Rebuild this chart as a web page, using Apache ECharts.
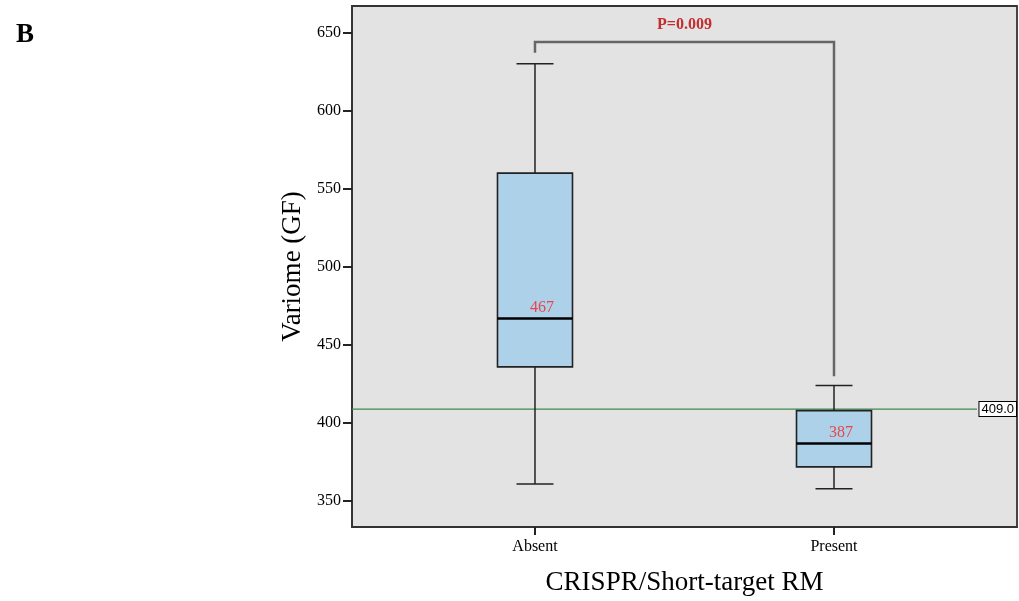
<!DOCTYPE html>
<html><head><meta charset="utf-8">
<script src="https://cdn.jsdelivr.net/npm/echarts@6/dist/echarts.min.js"></script>
<style>html,body{margin:0;padding:0;background:#fff}#c{width:1019px;height:601px}</style>
</head><body><div id="c"></div>
<script>
const categories = ['Absent', 'Present'];
const categoryPos = [1, 2];
const whiskerLow = [361, 358];
const q1 = [436, 372];
const median = [467, 387];
const q3 = [560, 408];
const whiskerHigh = [630, 424];
const refValue = 409;
const yTicks = [350, 400, 450, 500, 550, 600, 650];
const bracket = { left: 637, top: 644, right: 430, label: 'P=0.009' };

const SERIF = '"Liberation Serif","DejaVu Serif",serif';
const boxData = categoryPos.map((p, i) => [p, whiskerLow[i], q1[i], median[i], q3[i], whiskerHigh[i]]);

const chart = echarts.init(document.getElementById('c'));
chart.setOption({
  animation: false,
  backgroundColor: '#fff',
  title: { text: 'B', left: 11, top: 17, textStyle: { fontFamily: SERIF, fontWeight: 'bold', fontSize: 27, color: '#000' } },
  grid: { left: 352, right: 2, top: 6, bottom: 73, show: true, backgroundColor: '#e3e3e3', borderColor: '#333', borderWidth: 1.8 },
  xAxis: {
    type: 'value', min: 0.388, max: 2.612,
    name: 'CRISPR/Short-target RM', nameLocation: 'middle', nameGap: 42,
    nameTextStyle: { fontFamily: SERIF, fontSize: 27, color: '#000' },
    axisLine: { show: true, lineStyle: { color: '#333', width: 1.8 } },
    axisTick: { show: true, customValues: categoryPos, length: 8, lineStyle: { color: '#222', width: 2 } },
    axisLabel: { customValues: categoryPos, margin: 12, fontFamily: SERIF, fontSize: 16, color: '#000',
      formatter: v => categories[categoryPos.indexOf(Math.round(v))] || '' },
    splitLine: { show: false }
  },
  yAxis: {
    type: 'value', min: 333.5, max: 667,
    name: 'Variome (GF)', nameLocation: 'middle', nameGap: 45, nameRotate: 90,
    nameTextStyle: { fontFamily: SERIF, fontSize: 27, color: '#000' },
    axisLine: { show: true, lineStyle: { color: '#333', width: 1.8 } },
    axisTick: { show: true, customValues: yTicks, length: 9, lineStyle: { color: '#222', width: 2 } },
    axisLabel: { customValues: yTicks, margin: 11, fontFamily: SERIF, fontSize: 16, color: '#000' },
    splitLine: { show: false }
  },
  series: [
    {
      type: 'custom',
      data: [[refValue]],
      z: 1,
      renderItem: (params, api) => {
        const v = api.value(0);
        const a = api.coord([0.388, v]);
        const b = api.coord([2.612, v]);
        return { type: 'group', children: [
          { type: 'line', shape: { x1: a[0], y1: a[1], x2: b[0] - 40, y2: b[1] }, style: { stroke: '#3d8a4e', lineWidth: 1.2 } },
          { type: 'text', style: { text: v.toFixed(1), x: b[0] - 1, y: b[1], align: 'right', verticalAlign: 'middle',
              font: '13px "Liberation Sans", "DejaVu Sans", sans-serif', fill: '#000', backgroundColor: '#fff', borderColor: '#000', borderWidth: 1, padding: [1, 2, 0, 2] } }
        ] };
      }
    },
    {
      type: 'custom',
      data: boxData,
      z: 2,
      renderItem: (params, api) => {
        const x = api.value(0);
        const lo = api.coord([x, api.value(1)]);
        const b1 = api.coord([x, api.value(2)]);
        const md = api.coord([x, api.value(3)]);
        const b3 = api.coord([x, api.value(4)]);
        const hi = api.coord([x, api.value(5)]);
        const half = 37.5, cap = 18.5;
        const cx = lo[0];
        const ls = { stroke: '#222', lineWidth: 1.5 };
        return { type: 'group', children: [
          { type: 'line', shape: { x1: cx, y1: hi[1], x2: cx, y2: b3[1] }, style: ls },
          { type: 'line', shape: { x1: cx, y1: b1[1], x2: cx, y2: lo[1] }, style: ls },
          { type: 'line', shape: { x1: cx - cap, y1: hi[1], x2: cx + cap, y2: hi[1] }, style: ls },
          { type: 'line', shape: { x1: cx - cap, y1: lo[1], x2: cx + cap, y2: lo[1] }, style: ls },
          { type: 'rect', shape: { x: cx - half, y: b3[1], width: half * 2, height: b1[1] - b3[1] }, style: { fill: '#aed1ea', stroke: '#222', lineWidth: 1.6 } },
          { type: 'line', shape: { x1: cx - half, y1: md[1], x2: cx + half, y2: md[1] }, style: { stroke: '#000', lineWidth: 2.5 } },
          { type: 'text', style: { text: String(api.value(3)), x: cx + 7, y: md[1] - 3, align: 'center', verticalAlign: 'bottom',
              font: '16px ' + SERIF, fill: '#e8464a' } }
        ] };
      }
    },
    {
      type: 'custom',
      data: [[categoryPos[0], categoryPos[1], bracket.left, bracket.top, bracket.right]],
      z: 3,
      renderItem: (params, api) => {
        const l = api.coord([api.value(0), api.value(2)]);
        const t1 = api.coord([api.value(0), api.value(3)]);
        const t2 = api.coord([api.value(1), api.value(3)]);
        const r = api.coord([api.value(1), api.value(4)]);
        return { type: 'group', children: [
          { type: 'polyline', shape: { points: [l, t1, t2, r] }, style: { stroke: '#666', lineWidth: 2.5, fill: null } },
          { type: 'text', style: { text: bracket.label, x: (t1[0] + t2[0]) / 2, y: t1[1] - 9, align: 'center', verticalAlign: 'bottom',
              font: 'bold 16px ' + SERIF, fill: '#c22d2d' } }
        ] };
      }
    }
  ]
});
</script></body></html>
